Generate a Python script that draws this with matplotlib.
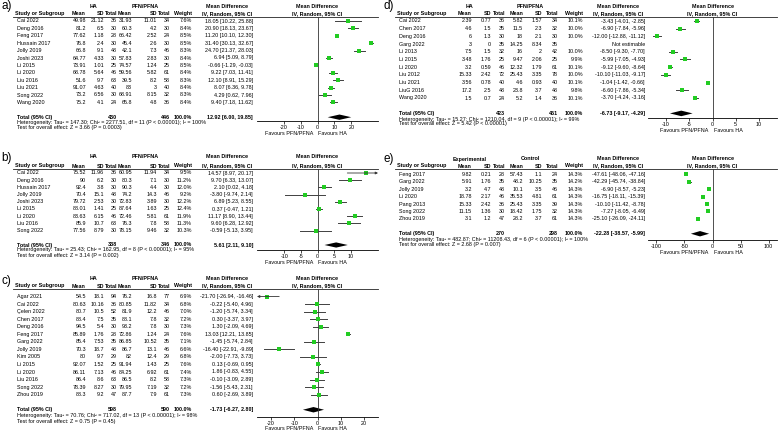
import matplotlib
matplotlib.use('Agg')
import matplotlib.pyplot as plt

plt.rcParams['font.family'] = ['Liberation Sans', 'DejaVu Sans']
plt.rcParams['axes.unicode_minus'] = False

W, H = 782, 433
FS = 3.9

# ---------------- data ----------------
# a) HA vs PFN/PFNA
a_study = ['Cai 2022', 'Deng 2016', 'Feng 2017', 'Hussain 2017', 'Jolly 2019', 'Joshi 2023',
           'Li 2015', 'Li 2020', 'Liu 2016', 'Liu 2021', 'Song 2022', 'Wang 2020']
a_m1 = [49.98, 81.2, 77.62, 76.8, 66.8, 64.77, 73.91, 68.78, 51.6, 91.07, 73.2, 75.2]
a_sd1 = [21.12, 6.5, 1.18, 2.4, 9.1, 4.33, 1.01, 5.64, 9.7, 4.63, 6.56, 4.1]
a_n1 = [36, 30, 28, 30, 48, 30, 25, 46, 63, 40, 30, 24]
a_m2 = [31.93, 60.3, 66.42, 45.4, 42.1, 57.83, 74.57, 59.56, 39.5, 83, 68.91, 65.8]
a_sd2 = [11.01, 4.2, 2.52, 2.6, 7.3, 2.83, 1.24, 5.82, 8.2, 3, 8.15, 4.8]
a_n2 = [34, 30, 24, 30, 46, 30, 25, 61, 58, 40, 32, 36]
a_w = [7.6, 8.4, 8.5, 8.5, 8.3, 8.4, 8.5, 8.4, 8.3, 8.4, 8.3, 8.4]
a_md = [18.05, 20.90, 11.20, 31.40, 24.70, 6.94, -0.66, 9.22, 12.10, 8.07, 4.29, 9.40]
a_lo = [10.22, 18.13, 10.10, 30.13, 21.37, 5.09, -1.29, 7.03, 8.91, 6.36, 0.62, 7.18]
a_hi = [25.88, 23.67, 12.30, 32.67, 28.03, 8.79, -0.03, 11.41, 15.29, 9.78, 7.96, 11.62]
a_tot = [430, 446, 12.92, 6.00, 19.85]
a_het = 'Heterogeneity: Tau² = 147.30; Chi² = 2277.51, df = 11 (P < 0.00001); I² = 100%'
a_z = 'Test for overall effect: Z = 3.66 (P = 0.0003)'
a_ticks = [-20, -10, 0, 10, 20]

# b)
b_study = ['Cai 2022', 'Deng 2016', 'Hussain 2017', 'Jolly 2019', 'Joshi 2023', 'Li 2015',
           'Li 2020', 'Liu 2016', 'Song 2022']
b_m1 = [75.52, 90, 92.4, 70.4, 79.72, 88.01, 83.63, 85.9, 77.56]
b_sd1 = [11.96, 6.2, 3.8, 15.1, 2.53, 1.41, 6.15, 10.7, 8.79]
b_n1 = [36, 30, 30, 48, 30, 25, 46, 63, 30]
b_m2 = [60.95, 80.3, 90.3, 74.2, 72.83, 87.64, 72.46, 76.3, 78.15]
b_sd2 = [11.94, 7.1, 4.4, 14.3, 3.89, 1.63, 5.81, 7.8, 9.46]
b_n2 = [34, 30, 30, 46, 30, 25, 61, 58, 32]
b_w = [9.5, 11.2, 12.0, 9.2, 12.2, 12.4, 11.9, 11.3, 10.3]
b_md = [14.57, 9.70, 2.10, -3.80, 6.89, 0.37, 11.17, 9.60, -0.59]
b_lo = [8.97, 6.33, 0.02, -9.74, 5.23, -0.47, 8.90, 6.28, -5.13]
b_hi = [20.17, 13.07, 4.18, 2.14, 8.55, 1.21, 13.44, 12.92, 3.95]
b_tot = [338, 346, 5.61, 2.11, 9.10]
b_het = 'Heterogeneity: Tau² = 25.43; Chi² = 162.95, df = 8 (P < 0.00001); I² = 95%'
b_z = 'Test for overall effect: Z = 3.14 (P = 0.002)'
b_ticks = [-10, -5, 0, 5, 10]

# c)
c_study = ['Agar 2021', 'Cai 2022', 'Çelen 2022', 'Chen 2017', 'Deng 2016', 'Feng 2017',
           'Garg 2022', 'Jolly 2019', 'Kim 2005', 'Li 2015', 'Li 2020', 'Liu 2016',
           'Song 2022', 'Zhou 2019']
c_m1 = [54.5, 80.63, 80.7, 88.4, 94.5, 85.89, 85.4, 70.3, 80, 92.07, 86.11, 86.4, 78.39, 88.3]
c_sd1 = [18.1, 10.16, 10.5, 7.5, 5.4, 1.76, 7.53, 18.7, 9.7, 1.52, 7.13, 8.6, 8.27, 9.2]
c_n1 = [94, 36, 52, 35, 30, 28, 35, 48, 29, 25, 46, 63, 30, 47]
c_m2 = [76.2, 80.85, 81.9, 88.1, 93.2, 72.86, 86.85, 86.7, 82, 91.94, 84.25, 86.5, 79.95, 87.7]
c_sd2 = [16.8, 11.82, 12.2, 7.8, 7.8, 1.24, 10.52, 13.1, 12.4, 1.43, 6.92, 8.2, 7.19, 7.9]
c_n2 = [77, 34, 46, 32, 30, 24, 35, 46, 29, 25, 61, 58, 32, 61]
c_w = [6.9, 6.8, 7.0, 7.2, 7.3, 7.6, 7.1, 6.6, 6.8, 7.6, 7.4, 7.3, 7.2, 7.3]
c_md = [-21.70, -0.22, -1.20, 0.30, 1.30, 13.03, -1.45, -16.40, -2.00, 0.13, 1.86, -0.10, -1.56, 0.60]
c_lo = [-26.94, -5.40, -5.74, -3.37, -2.09, 12.21, -5.74, -22.91, -7.73, -0.69, -0.83, -3.09, -5.43, -2.69]
c_hi = [-16.46, 4.96, 3.34, 3.97, 4.69, 13.85, 2.84, -9.89, 3.73, 0.95, 4.55, 2.89, 2.31, 3.89]
c_tot = [598, 590, -1.73, -6.27, 2.80]
c_het = 'Heterogeneity: Tau² = 70.76; Chi² = 717.02, df = 13 (P < 0.00001); I² = 98%'
c_z = 'Test for overall effect: Z = 0.75 (P = 0.45)'
c_ticks = [-20, -10, 0, 10, 20]

# d)
d_study = ['Cai 2022', 'Chen 2017', 'Deng 2016', 'Garg 2022', 'Li 2013', 'Li 2015', 'Li 2020',
           'Liu 2012', 'Liu 2021', 'LiuG 2016', 'Wang 2020']
d_m1 = [2.39, 4.6, 6, 3, 7.5, 3.48, 3.2, 15.33, 3.56, 17.2, 1.5]
d_sd1 = [0.77, 1.5, 1.3, 0, 1.5, 1.76, 0.59, 2.42, 0.78, 2.5, 0.7]
d_n1 = [36, 35, 30, 35, 32, 25, 46, 72, 40, 48, 24]
d_m2 = [5.82, 11.5, 18, 14.25, 16, 9.47, 12.32, 25.43, 4.6, 23.8, 5.2]
d_sd2 = [1.57, 2.3, 2.1, 8.34, 2, 2.06, 1.79, 3.35, 0.93, 3.7, 1.4]
d_n2 = [34, 32, 30, 35, 42, 25, 61, 78, 40, 48, 36]
d_w = [10.1, 10.0, 10.0, None, 10.0, 9.9, 10.1, 10.0, 10.1, 9.8, 10.1]
d_md = [-3.43, -6.90, -12.00, None, -8.50, -5.99, -9.12, -10.10, -1.04, -6.60, -3.70]
d_lo = [-4.01, -7.84, -12.88, None, -9.30, -7.05, -9.60, -11.03, -1.42, -7.86, -4.24]
d_hi = [-2.85, -5.96, -11.12, None, -7.70, -4.93, -8.64, -9.17, -0.66, -5.34, -3.16]
d_tot = [423, 461, -6.73, -9.17, -4.29]
d_het = 'Heterogeneity: Tau² = 15.27; Chi² = 1210.04, df = 9 (P < 0.00001); I² = 99%'
d_z = 'Test for overall effect: Z = 5.42 (P < 0.00001)'
d_ticks = [-10, -5, 0, 5, 10]

# e) Experimental vs Control
e_study = ['Feng 2017', 'Garg 2022', 'Jolly 2019', 'Li 2020', 'Pang 2013', 'Song 2022', 'Zhou 2019']
e_m1 = [9.82, 5.91, 3.2, 18.78, 15.33, 11.15, 3.1]
e_sd1 = [0.21, 1.76, 4.7, 2.17, 2.42, 1.36, 1.2]
e_n1 = [28, 35, 48, 46, 36, 30, 47]
e_m2 = [57.43, 48.2, 10.1, 35.53, 25.43, 18.42, 28.2]
e_sd2 = [1.1, 10.25, 3.5, 4.81, 3.35, 1.75, 3.7]
e_n2 = [24, 35, 46, 61, 39, 32, 61]
e_w = [14.3, 14.2, 14.3, 14.3, 14.3, 14.3, 14.3]
e_md = [-47.61, -42.29, -6.90, -16.75, -10.10, -7.27, -25.10]
e_lo = [-48.06, -45.74, -8.57, -18.11, -11.42, -8.05, -26.09]
e_hi = [-47.16, -38.84, -5.23, -15.39, -8.78, -6.49, -24.11]
e_tot = [270, 298, -22.28, -38.57, -5.99]
e_het = 'Heterogeneity: Tau² = 482.87; Chi² = 11208.43, df = 6 (P < 0.00001); I² = 100%'
e_z = 'Test for overall effect: Z = 2.68 (P = 0.007)'
e_ticks = [-100, -50, 0, 50, 100]

# ---------------- layout (pixels) ----------------
LEFT = dict(study=15, m1=86, sd1=104, n1=117, m2=132, sd2=157, n2=170, w=192, md=253,
            g1=94, g2=145, mdh=227, pl=257, pr=378, lab=1)
RIGHT = dict(study=397, m1=472, sd1=491, n1=505, m2=523, sd2=542, n2=558, w=583, md=645,
             g1=470, g2=530, mdh=618, pl=648, pr=777, lab=384)

fig = plt.figure(figsize=(W / 100, H / 100), dpi=100)
bg = fig.add_axes([0, 0, 1, 1])
bg.set_xlim(0, W)
bg.set_ylim(H, 0)
bg.axis('off')


def put(x, y, s, ha='left', bold=False, size=FS):
    bg.text(x, y, s, ha=ha, va='center', fontsize=size,
            fontweight='bold' if bold else 'normal', color='black')


def num(v):
    return f'{v:g}'


def panel(tag, col, lay, groups, data, tot, het, ztxt, rng, ticks):
    study, m1, sd1, n1, m2, sd2, n2, w, md, lo, hi = data
    y1, dy = lay['y1'], lay['dy']
    n = len(study)
    zero = (col['pl'] + col['pr']) / 2

    put(col['lab'], lay['lab'], tag, size=8.5)
    # group headers
    put(col['g1'], lay['grp'], groups[0], ha='center', bold=True)
    put(col['g2'], lay['grp'], groups[1], ha='center', bold=True)
    put(col['mdh'], lay['grp'], 'Mean Difference', ha='center', bold=True)
    put(zero, lay['grp'], 'Mean Difference', ha='center', bold=True)
    hy = lay['hdr']
    put(col['study'], hy, 'Study or Subgroup', bold=True)
    for key, s in [('m1', 'Mean'), ('sd1', 'SD'), ('n1', 'Total'), ('m2', 'Mean'),
                   ('sd2', 'SD'), ('n2', 'Total'), ('w', 'Weight')]:
        put(col[key], hy, s, ha='right', bold=True)
    put(col['mdh'], hy, 'IV, Random, 95% CI', ha='center', bold=True)
    put(zero, hy, 'IV, Random, 95% CI', ha='center', bold=True)
    bg.plot([col['study'] - 2, col['pr']], [lay['rule'], lay['rule']], color='#222222', lw=0.6)

    # study rows
    for i in range(n):
        y = y1 + i * dy
        put(col['study'] + 2, y, study[i])
        for key, arr in [('m1', m1), ('sd1', sd1), ('n1', n1), ('m2', m2), ('sd2', sd2), ('n2', n2)]:
            put(col[key], y, num(arr[i]), ha='right')
        if w[i] is not None:
            put(col['w'], y, f'{w[i]:.1f}%', ha='right')
        if md[i] is None:
            put(col['md'], y, 'Not estimable', ha='right')
        else:
            put(col['md'], y, f'{md[i]:.2f} [{lo[i]:.2f}, {hi[i]:.2f}]', ha='right')

    # totals
    ty = y1 + (n + 1) * dy
    put(col['study'] + 2, ty, 'Total (95% CI)', bold=True)
    put(col['n1'], ty, str(tot[0]), ha='right', bold=True)
    put(col['n2'], ty, str(tot[1]), ha='right', bold=True)
    put(col['w'], ty, '100.0%', ha='right', bold=True)
    put(col['md'], ty, f'{tot[2]:.2f} [{tot[3]:.2f}, {tot[4]:.2f}]', ha='right', bold=True)
    put(col['study'] + 2, lay['het'], het)
    put(col['study'] + 2, lay['test'], ztxt)

    # forest plot
    ax = fig.add_axes([col['pl'] / W, 1 - lay['axis'] / H,
                       (col['pr'] - col['pl']) / W, (lay['axis'] - lay['rule']) / H])
    ax.patch.set_alpha(0)
    ax.set_xlim(-rng, rng)
    ax.set_ylim((lay['axis'] - y1) / dy, (lay['rule'] - y1) / dy)
    ax.axvline(0, color='#333333', lw=0.6)
    for i in range(n):
        if md[i] is None:
            continue
        l, h = max(lo[i], -rng), min(hi[i], rng)
        if hi[i] > rng or lo[i] < -rng:
            tip, tail = (h, l) if hi[i] > rng else (l, h)
            ax.annotate('', xy=(tip, i), xytext=(tail, i),
                        arrowprops=dict(arrowstyle='-|>', lw=0.6, color='#333333',
                                        mutation_scale=3.5, shrinkA=0, shrinkB=0))
        else:
            ax.plot([l, h], [i, i], color='#404040', lw=0.7)
        ax.plot(md[i], i, 's', color='#22cc22', ms=2.2, mew=0)
    t = n + 1
    ax.fill([tot[3], tot[2], tot[4], tot[2]], [t, t - 0.36, t, t + 0.36], color='black', lw=0)
    for s in ['left', 'right', 'top']:
        ax.spines[s].set_visible(False)
    ax.spines['bottom'].set_linewidth(0.6)
    ax.set_yticks([])
    ax.set_xticks(ticks)
    ax.tick_params(axis='x', length=2, width=0.5, labelsize=FS, pad=1)
    put(zero - 4, lay['fav'], 'Favours PFN/PFNA', ha='right')
    put(zero + 1, lay['fav'], 'Favours HA')


LAY_A = dict(lab=6, grp=6, hdr=13.5, rule=16.5, y1=21, dy=7.4, het=122.5, test=127.5, axis=120.5, fav=133.5)
LAY_B = dict(lab=158, grp=157, hdr=166, rule=168.5, y1=173, dy=7.2, het=250, test=255, axis=249.5, fav=263)
LAY_C = dict(lab=281, grp=278, hdr=286, rule=288.5, y1=296.5, dy=7.55, het=415.5, test=421, axis=416.5, fav=428)
LAY_D = dict(lab=6, grp=6, hdr=13.5, rule=16.5, y1=21, dy=7.7, het=119, test=124, axis=118, fav=130)
LAY_E = dict(lab=159, grp=159, hdr=166, rule=168.5, y1=174.3, dy=7.43, het=239.5, test=244.5, axis=240, fav=252)

panel('a)', LEFT, LAY_A, ('HA', 'PFN/PFNA'),
      (a_study, a_m1, a_sd1, a_n1, a_m2, a_sd2, a_n2, a_w, a_md, a_lo, a_hi),
      a_tot, a_het, a_z, 35.6, a_ticks)
panel('b)', LEFT, LAY_B, ('HA', 'PFN/PFNA'),
      (b_study, b_m1, b_sd1, b_n1, b_m2, b_sd2, b_n2, b_w, b_md, b_lo, b_hi),
      b_tot, b_het, b_z, 18.2, b_ticks)
panel('c)', LEFT, LAY_C, ('HA', 'PFN/PFNA'),
      (c_study, c_m1, c_sd1, c_n1, c_m2, c_sd2, c_n2, c_w, c_md, c_lo, c_hi),
      c_tot, c_het, c_z, 26.0, c_ticks)
panel('d)', RIGHT, LAY_D, ('HA', 'PFN/PFNA'),
      (d_study, d_m1, d_sd1, d_n1, d_m2, d_sd2, d_n2, d_w, d_md, d_lo, d_hi),
      d_tot, d_het, d_z, 13.9, d_ticks)
panel('e)', RIGHT, LAY_E, ('Experimental', 'Control'),
      (e_study, e_m1, e_sd1, e_n1, e_m2, e_sd2, e_n2, e_w, e_md, e_lo, e_hi),
      e_tot, e_het, e_z, 115.0, e_ticks)

fig.savefig('out.png', dpi=100, facecolor='white')
